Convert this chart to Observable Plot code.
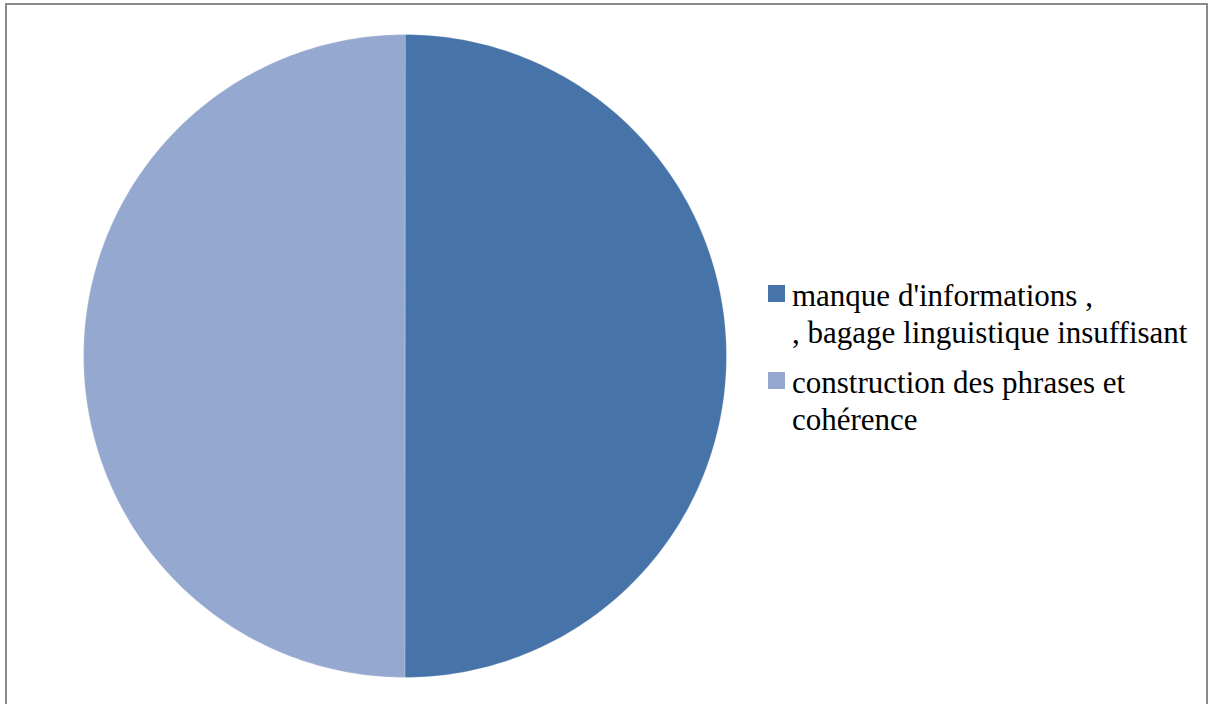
<!DOCTYPE html>
<html>
<head>
<meta charset="utf-8">
<script src="https://cdn.jsdelivr.net/npm/d3@7"></script>
<script src="https://cdn.jsdelivr.net/npm/@observablehq/plot@0.6"></script>
<style>
  html, body { margin: 0; padding: 0; background: #fff; }
  #wrap { position: relative; width: 1211px; height: 704px; overflow: hidden; }
  #frame { position: absolute; left: 5px; top: 3px; width: 1203px; height: 720px; border: 2px solid #8a8a8a; box-sizing: border-box; }
  #chart { position: absolute; left: 0; top: 0; }
  #legend { position: absolute; left: 768px; top: 277px; font-family: 'Liberation Serif', 'Times New Roman', serif; font-size: 31px; color: #000; }
  .item { position: relative; padding-left: 24px; line-height: 37px; margin-bottom: 13px; white-space: nowrap; }
  .sw { position: absolute; left: 0; top: 8px; width: 17px; height: 17px; }
</style>
</head>
<body>
<div id="wrap">
  <div id="frame"></div>
  <div id="chart"></div>
  <div id="legend"></div>
</div>
<script>
const categories = ["manque d'informations , bagage linguistique insuffisant", "construction des phrases et cohérence"];
const legendLines = [["manque d'informations ,", ", bagage linguistique insuffisant"], ["construction des phrases et", "cohérence"]];
const values = [50, 50];
const colors = ["#4774a8", "#95a9d0"];

const data = categories.map((c, i) => ({label: c, value: values[i]}));
const arcs = d3.pie().value(d => d.value).sort(null)(data);

function arcPolygon(a) {
  const pts = [[0, 0]];
  const n = Math.max(2, Math.ceil((a.endAngle - a.startAngle) / (Math.PI / 180)));
  for (let k = 0; k <= n; k++) {
    const t = a.startAngle + (a.endAngle - a.startAngle) * k / n;
    pts.push([Math.sin(t), Math.cos(t)]);
  }
  pts.push([0, 0]);
  return pts;
}
const features = arcs.map(a => ({
  type: "Feature",
  properties: {label: a.data.label},
  geometry: {type: "Polygon", coordinates: [arcPolygon(a)]}
}));
const domainBox = {type: "Polygon", coordinates: [[[-1,-1],[1,-1],[1,1],[-1,1],[-1,-1]]]};

const plot = Plot.plot({
  width: 1211,
  height: 704,
  marginLeft: 83,
  marginRight: 1211 - 726,
  marginTop: 34,
  marginBottom: 704 - 677,
  projection: {type: "reflect-y", domain: domainBox},
  color: {domain: categories, range: colors},
  marks: [
    Plot.geo(features, {fill: d => d.properties.label, stroke: "#ffffff", strokeWidth: 0.6, strokeOpacity: 0.5})
  ]
});
plot.style.background = "transparent";
document.getElementById("chart").appendChild(plot);

const legend = document.getElementById("legend");
categories.forEach((c, i) => {
  const item = document.createElement("div");
  item.className = "item";
  const sw = document.createElement("div");
  sw.className = "sw";
  sw.style.background = colors[i];
  item.appendChild(sw);
  legendLines[i].forEach(line => {
    const l = document.createElement("div");
    l.textContent = line;
    item.appendChild(l);
  });
  legend.appendChild(item);
});
</script>
</body>
</html>
